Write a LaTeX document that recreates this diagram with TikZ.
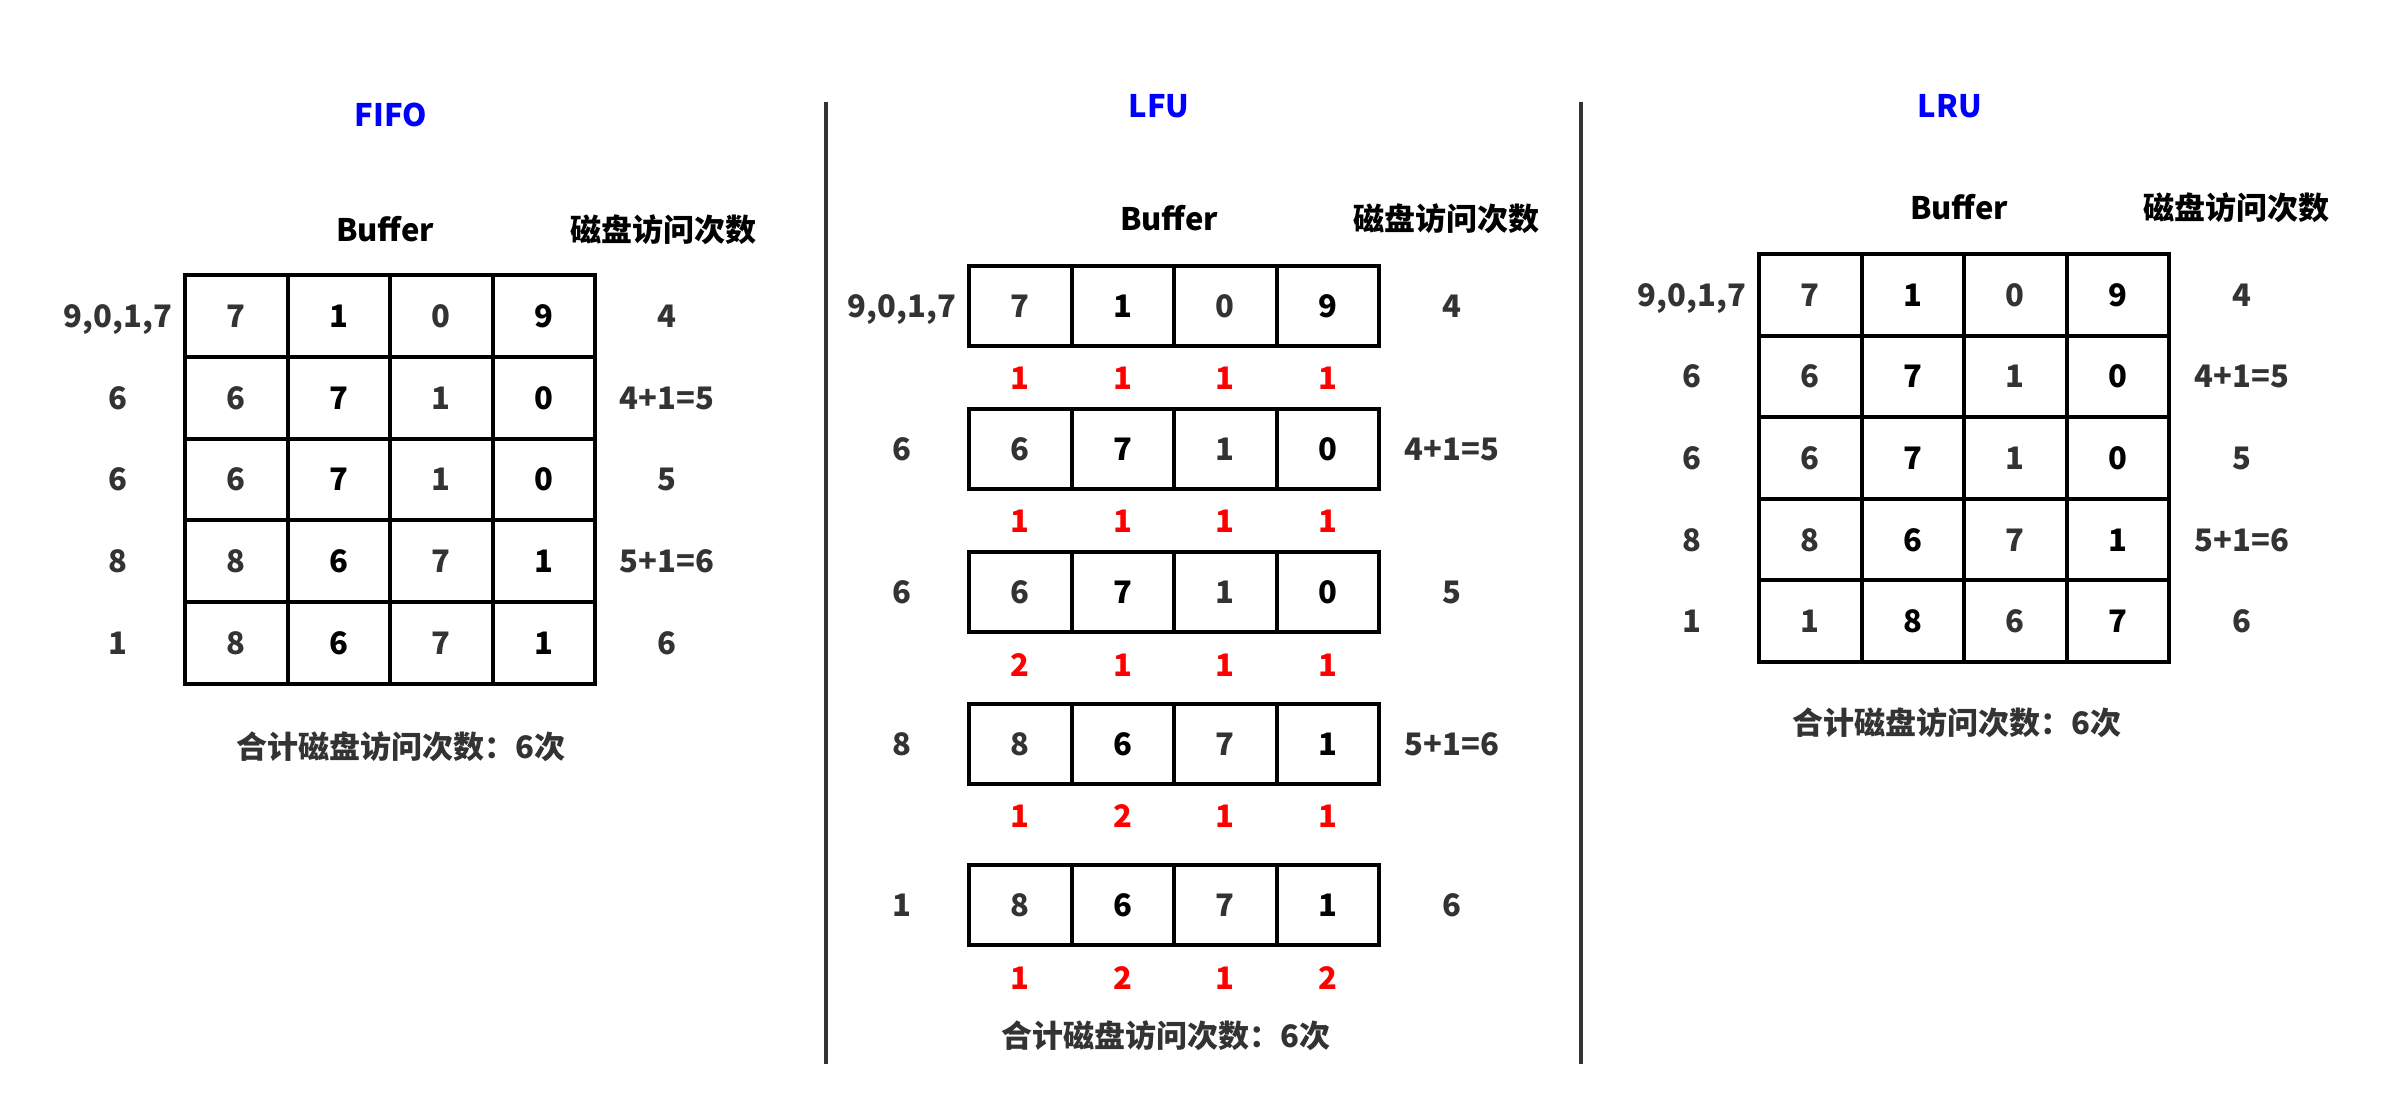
\documentclass[tikz,border=0pt]{standalone}
\usepackage{fontspec}
\setmainfont{Noto Sans CJK SC}
\definecolor{greytxt}{HTML}{333333}
\definecolor{titleblue}{HTML}{0000FF}
\definecolor{freqred}{HTML}{FF0000}
\newcommand\dgfont{\fontsize{15.5pt}{18pt}\selectfont\bfseries}
\begin{document}
\begin{tikzpicture}[x=0.5pt,y=-0.5pt,
  cellbox/.style={draw=black, line width=2pt, minimum width=51.25pt, inner sep=0pt, outer sep=0pt,
    font=\dgfont, text height=11.4pt, text depth=0pt},
  litecell/.style={cellbox, text=greytxt},
  darkcell/.style={cellbox, text=black},
  sidelabel/.style={font=\dgfont, text=greytxt, inner sep=0pt, text height=11.4pt, text depth=0pt},
  headlabel/.style={font=\dgfont, text=black, inner sep=0pt, text height=11.4pt, text depth=0pt},
  titlelabel/.style={font=\dgfont, text=titleblue, inner sep=0pt, text height=11.4pt, text depth=0pt},
  freqlabel/.style={font=\dgfont, text=freqred, inner sep=0pt, text height=11.4pt, text depth=0pt},
  sumlabel/.style={font=\dgfont, text=greytxt, inner sep=0pt, text height=11.4pt, text depth=0pt},
  sepline/.style={draw=greytxt, line width=2pt}
]
\useasboundingbox (0,0) rectangle (2392,1116);
\fill[white] (0,0) rectangle (2392,1116);

% separators
\coordinate (s1a) at (826,102); \coordinate (s1b) at (826,1064);
\coordinate (s2a) at (1581,102); \coordinate (s2b) at (1581,1064);
\draw[sepline] (s1a) -- (s1b);
\draw[sepline] (s2a) -- (s2b);

% ---------------- FIFO ----------------
\node[titlelabel] (fifo-title) at (391,115) {FIFO};
\node[headlabel] (fifo-buf) at (385,230) {Buffer};
\node[headlabel] (fifo-head) at (663,230) {磁盘访问次数};
\foreach \r/\y/\lab/\cnt/\a/\b/\c/\d in {1/315.9/{9,0,1,7}/4/7/1/0/9, 2/397.7/6/{4+1=5}/6/7/1/0, 3/479.5/6/5/6/7/1/0, 4/561.3/8/{5+1=6}/8/6/7/1, 5/643.1/1/6/8/6/7/1}{
  \node[litecell, minimum height=40.9pt] (fifo-\r-1) at (236.25,\y) {\a};
  \node[darkcell, minimum height=40.9pt] (fifo-\r-2) at (338.75,\y) {\b};
  \node[litecell, minimum height=40.9pt] (fifo-\r-3) at (441.25,\y) {\c};
  \node[darkcell, minimum height=40.9pt] (fifo-\r-4) at (543.75,\y) {\d};
  \node[sidelabel] (fifo-l\r) at (118,\y) {\lab};
  \node[sidelabel] (fifo-n\r) at (667,\y) {\cnt};
}
\node[sumlabel] (fifo-sum) at (401,747) {合计磁盘访问次数：6次};

% ---------------- LFU ----------------
\node[titlelabel] (lfu-title) at (1159,106) {LFU};
\node[headlabel] (lfu-buf) at (1169,219) {Buffer};
\node[headlabel] (lfu-head) at (1446,219) {磁盘访问次数};
\foreach \r/\y/\fy/\lab/\cnt/\a/\b/\c/\d/\fa/\fb/\fc/\fd in {
  1/306/378/{9,0,1,7}/4/7/1/0/9/1/1/1/1,
  2/449/521/6/{4+1=5}/6/7/1/0/1/1/1/1,
  3/592/665/6/5/6/7/1/0/2/1/1/1,
  4/744/816/8/{5+1=6}/8/6/7/1/1/2/1/1,
  5/905/978/1/6/8/6/7/1/1/2/1/2}{
  \node[litecell, minimum height=40pt] (lfu-\r-1) at (1020.25,\y) {\a};
  \node[darkcell, minimum height=40pt] (lfu-\r-2) at (1122.75,\y) {\b};
  \node[litecell, minimum height=40pt] (lfu-\r-3) at (1225.25,\y) {\c};
  \node[darkcell, minimum height=40pt] (lfu-\r-4) at (1327.75,\y) {\d};
  \node[sidelabel] (lfu-l\r) at (902,\y) {\lab};
  \node[sidelabel] (lfu-n\r) at (1452,\y) {\cnt};
  \node[freqlabel] (lfu-f\r-1) at (1020.25,\fy) {\fa};
  \node[freqlabel] (lfu-f\r-2) at (1122.75,\fy) {\fb};
  \node[freqlabel] (lfu-f\r-3) at (1225.25,\fy) {\fc};
  \node[freqlabel] (lfu-f\r-4) at (1327.75,\fy) {\fd};
}
\node[sumlabel] (lfu-sum) at (1166,1036) {合计磁盘访问次数：6次};

% ---------------- LRU ----------------
\node[titlelabel] (lru-title) at (1950,106) {LRU};
\node[headlabel] (lru-buf) at (1959,208) {Buffer};
\node[headlabel] (lru-head) at (2236,208) {磁盘访问次数};
\foreach \r/\y/\lab/\cnt/\a/\b/\c/\d in {1/294.8/{9,0,1,7}/4/7/1/0/9, 2/376.4/6/{4+1=5}/6/7/1/0, 3/458/6/5/6/7/1/0, 4/539.6/8/{5+1=6}/8/6/7/1, 5/621.2/1/6/1/8/6/7}{
  \node[litecell, minimum height=40.8pt] (lru-\r-1) at (1810.25,\y) {\a};
  \node[darkcell, minimum height=40.8pt] (lru-\r-2) at (1912.75,\y) {\b};
  \node[litecell, minimum height=40.8pt] (lru-\r-3) at (2015.25,\y) {\c};
  \node[darkcell, minimum height=40.8pt] (lru-\r-4) at (2117.75,\y) {\d};
  \node[sidelabel] (lru-l\r) at (1692,\y) {\lab};
  \node[sidelabel] (lru-n\r) at (2242,\y) {\cnt};
}
\node[sumlabel] (lru-sum) at (1957,723) {合计磁盘访问次数：6次};
\end{tikzpicture}
\end{document}
